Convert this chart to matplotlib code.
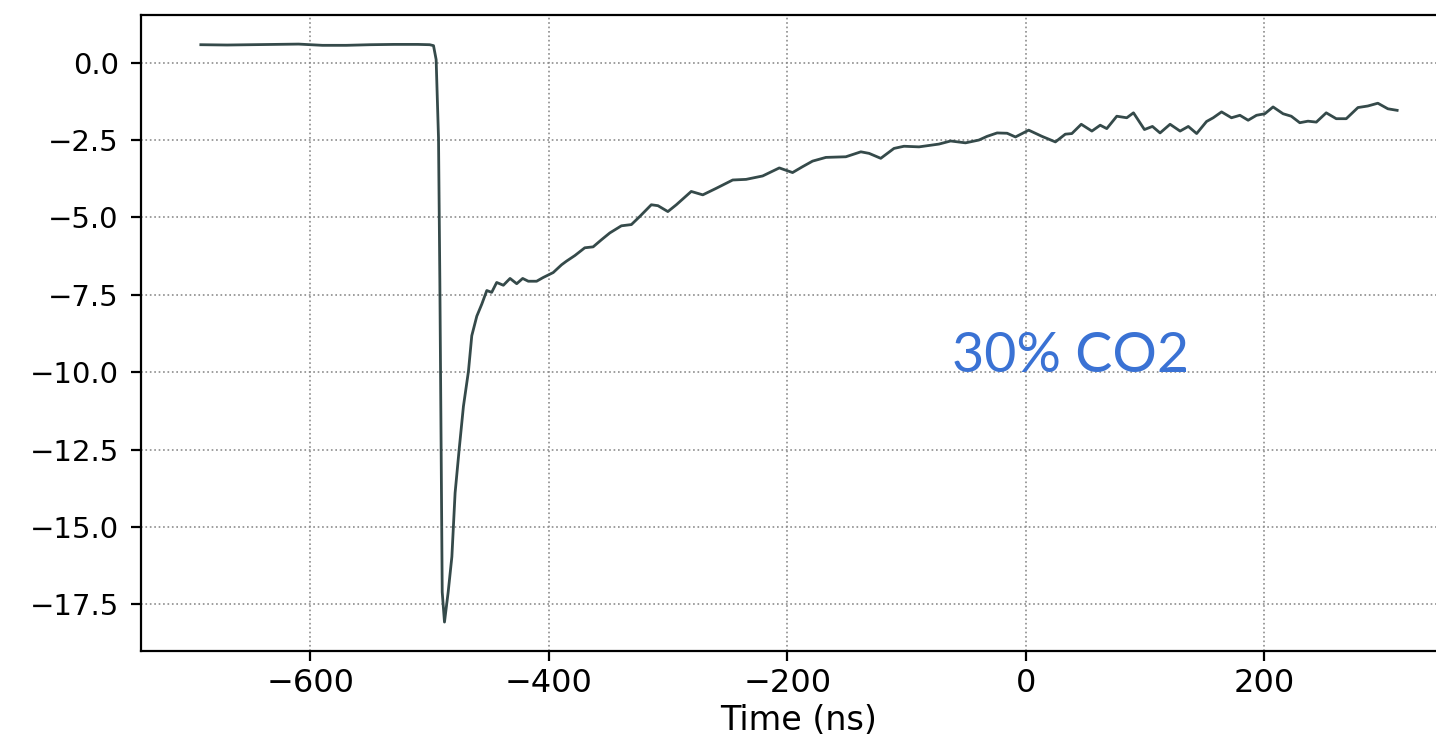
import matplotlib
matplotlib.use("Agg")
import matplotlib.pyplot as plt

# Detector pulse, time in ns and amplitude in arbitrary units
time_ns = [
    -692, -670, -650, -630, -610, -590, -570, -550, -530, -510, -500, -496.8,
    -494.6, -492.6, -491.5, -490.5, -489.5, -487.6, -484.5, -481.4, -478.7,
    -475.3, -471.7, -467.5, -464.7, -460.5, -456.3, -452.1, -448.0, -443.8,
    -438.2, -432.6, -427.0, -422.0, -417.3, -410.3, -404.8, -396.4, -389.4,
    -385.2, -378.2, -369.9, -362.9, -355.9, -348.9, -339.2, -330.8, -323.8,
    -314.1, -308.5, -300.2, -293.1, -280.6, -270.9, -259.7, -245.8, -234.6,
    -220.7, -206.7, -195.6, -187.2, -178.8, -167.6, -150.9, -138.3, -131.4,
    -121.6, -110.5, -102.1, -89.5, -72.8, -63.0, -50.5, -39.3, -32.4, -24.0,
    -15.6, -8.6, 2.5, 13.6, 24.9, 33.2, 38.7, 46.6, 55.5, 62.5, 68.0, 76.4,
    84.8, 90.4, 99.6, 106.3, 112.7, 121.1, 129.5, 136.4, 143.4, 151.7, 157.3,
    164.3, 172.6, 179.7, 186.6, 193.6, 200.6, 207.5, 215.9, 222.8, 229.9,
    236.8, 243.8, 252.1, 260.5, 268.9, 278.7, 287.0, 295.4, 303.8, 311.6,
]
signal = [
    0.58, 0.57, 0.58, 0.59, 0.60, 0.56, 0.56, 0.58, 0.59, 0.59, 0.58, 0.55,
    0.10, -2.45, -7.0, -12.0, -17.1, -18.07, -17.1, -15.96, -13.9,
    -12.5, -11.1, -9.97, -8.82, -8.19, -7.80, -7.36, -7.42, -7.10,
    -7.19, -6.97, -7.14, -6.97, -7.06, -7.06, -6.94, -6.78, -6.53,
    -6.41, -6.23, -5.98, -5.95, -5.72, -5.50, -5.27, -5.23, -4.97,
    -4.59, -4.62, -4.81, -4.59, -4.16, -4.27, -4.06, -3.79, -3.77,
    -3.66, -3.40, -3.55, -3.36, -3.18, -3.06, -3.04, -2.88, -2.93,
    -3.09, -2.77, -2.70, -2.72, -2.63, -2.53, -2.59, -2.50, -2.38, -2.27,
    -2.28, -2.40, -2.18, -2.38, -2.56, -2.31, -2.29, -1.99, -2.21, -2.02,
    -2.13, -1.73, -1.78, -1.62, -2.16, -2.06, -2.27, -1.99, -2.21, -2.06,
    -2.29, -1.90, -1.78, -1.59, -1.78, -1.70, -1.86, -1.70, -1.65, -1.43,
    -1.65, -1.73, -1.94, -1.89, -1.92, -1.62, -1.81, -1.81, -1.45, -1.40,
    -1.31, -1.49, -1.54,
]

fig = plt.figure(figsize=(14.36, 7.41), dpi=100)
ax = fig.add_axes([0.0982, 0.1215, 0.9164, 0.858])

ax.plot(time_ns, signal, color="#354a4a", linewidth=2.0)

ax.set_xticks([-600, -400, -200, 0, 200])
ax.set_yticks([0.0, -2.5, -5.0, -7.5, -10.0, -12.5, -15.0, -17.5])
ax.tick_params(length=7, width=1.6)
ax.tick_params(axis="x", labelsize=23, pad=5)
ax.tick_params(axis="y", labelsize=21, pad=9)
for spine in ax.spines.values():
    spine.set_linewidth(1.6)

ax.grid(True, linestyle=":", color="0.55", linewidth=1.2)
ax.set_xlabel("Time (ns)", fontsize=24, labelpad=4)

ax.text(-62, -10.0, "30% CO2", color="#3a72d4", fontsize=40,
        family=["Lato", "DejaVu Sans"], ha="left", va="baseline")

fig.savefig("out.png", dpi=100)
